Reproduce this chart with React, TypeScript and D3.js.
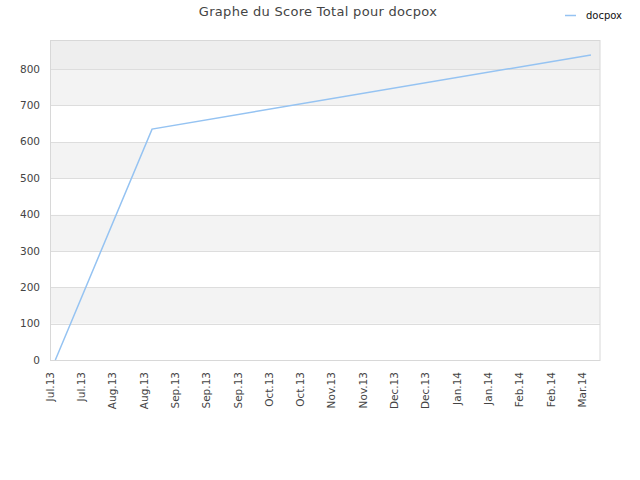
import { useEffect, useRef } from 'react';
import * as d3 from 'd3';

// ─── Data ───────────────────────────────────────────────────

const TICK_LABELS = [
  'Jul.13', 'Jul.13', 'Aug.13', 'Aug.13', 'Sep.13', 'Sep.13', 'Sep.13',
  'Oct.13', 'Oct.13', 'Nov.13', 'Nov.13', 'Dec.13', 'Dec.13',
  'Jan.14', 'Jan.14', 'Feb.14', 'Feb.14', 'Mar.14',
];

// positions in tick units
const POINT_X = [0.17, 3.26, 17.28];
const POINT_Y = [0, 635, 839];

const Y_TICKS = [0, 100, 200, 300, 400, 500, 600, 700, 800];

const TITLE = 'Graphe du Score Total pour docpox';
const SERIES = 'docpox';

// ─── Constants ──────────────────────────────────────────────

const W = 640;
const H = 480;
const MARGIN = { top: 40, right: 40, bottom: 120, left: 50 };
const LINE_COLOR = '#95c3f2';
const FONT = '"DejaVu Sans", Verdana, sans-serif';

export default function App() {
  const svgRef = useRef<SVGSVGElement>(null);

  useEffect(() => {
    if (!svgRef.current) return;
    const svg = d3.select(svgRef.current);
    svg.selectAll('*').remove();

    const innerW = W - MARGIN.left - MARGIN.right;
    const innerH = H - MARGIN.top - MARGIN.bottom;

    const x = d3.scaleLinear().domain([0, 17.57]).range([0, innerW]);
    const y = d3.scaleLinear().domain([0, 880]).range([innerH, 0]);

    const g = svg.append('g')
      .attr('transform', `translate(${MARGIN.left},${MARGIN.top})`);

    // Alternating bands
    const bandEdges = [...Y_TICKS, 880];
    for (let i = 0; i < bandEdges.length - 1; i++) {
      const lo = bandEdges[i];
      const hi = bandEdges[i + 1];
      let fill = i % 2 === 1 ? '#f3f3f3' : '#ffffff';
      if (i === bandEdges.length - 2) fill = '#eeeeee';
      g.append('rect')
        .attr('x', 0)
        .attr('y', y(hi))
        .attr('width', innerW)
        .attr('height', y(lo) - y(hi))
        .attr('fill', fill);
    }

    // Grid lines
    g.selectAll('.grid')
      .data(Y_TICKS.slice(1))
      .join('line')
      .attr('class', 'grid')
      .attr('x1', 0).attr('x2', innerW)
      .attr('y1', (d) => Math.round(y(d)) + 0.5)
      .attr('y2', (d) => Math.round(y(d)) + 0.5)
      .attr('stroke', '#dddddd')
      .attr('stroke-width', 1);

    // Frame
    g.append('rect')
      .attr('x', 0.5).attr('y', 0.5)
      .attr('width', innerW - 0.5).attr('height', innerH)
      .attr('fill', 'none')
      .attr('stroke', '#d8d8d8');

    // Y labels
    g.selectAll('.ylab')
      .data(Y_TICKS)
      .join('text')
      .attr('class', 'ylab')
      .attr('x', -10)
      .attr('y', (d) => y(d))
      .attr('dy', '0.35em')
      .attr('text-anchor', 'end')
      .attr('fill', '#444')
      .attr('font-family', FONT)
      .attr('font-size', '10.5px')
      .text((d) => String(d));

    // X labels
    g.selectAll('.xlab')
      .data(TICK_LABELS)
      .join('text')
      .attr('class', 'xlab')
      .attr('transform', (_, i) => `translate(${x(i)},${innerH + 12}) rotate(-90)`)
      .attr('dy', '0.35em')
      .attr('text-anchor', 'end')
      .attr('fill', '#444')
      .attr('font-family', FONT)
      .attr('font-size', '10.5px')
      .text((d) => d);

    // Line
    const pts = POINT_X.map((px, i) => [px, POINT_Y[i]] as [number, number]);
    const line = d3.line<[number, number]>()
      .x((d) => x(d[0]))
      .y((d) => y(d[1]));
    g.append('path')
      .datum(pts)
      .attr('d', line)
      .attr('fill', 'none')
      .attr('stroke', LINE_COLOR)
      .attr('stroke-width', 1.5);

    // Title
    svg.append('text')
      .attr('x', 318)
      .attr('y', 16)
      .attr('text-anchor', 'middle')
      .attr('fill', '#444')
      .attr('font-family', FONT)
      .attr('font-size', '13px')
      .attr('letter-spacing', '0.3px')
      .text(TITLE);

    // Legend
    svg.append('line')
      .attr('x1', 565).attr('x2', 576)
      .attr('y1', 15.5).attr('y2', 15.5)
      .attr('stroke', LINE_COLOR)
      .attr('stroke-width', 1.5);
    svg.append('text')
      .attr('x', 586)
      .attr('y', 15)
      .attr('dy', '0.35em')
      .attr('fill', '#111')
      .attr('font-family', FONT)
      .attr('font-size', '10px')
      .text(SERIES);
  }, []);

  return (
    <div style={{ position: 'fixed', left: 0, top: 0, width: W, height: H, background: '#fff' }}>
      <svg ref={svgRef} width={W} height={H} style={{ display: 'block' }} />
    </div>
  );
}
